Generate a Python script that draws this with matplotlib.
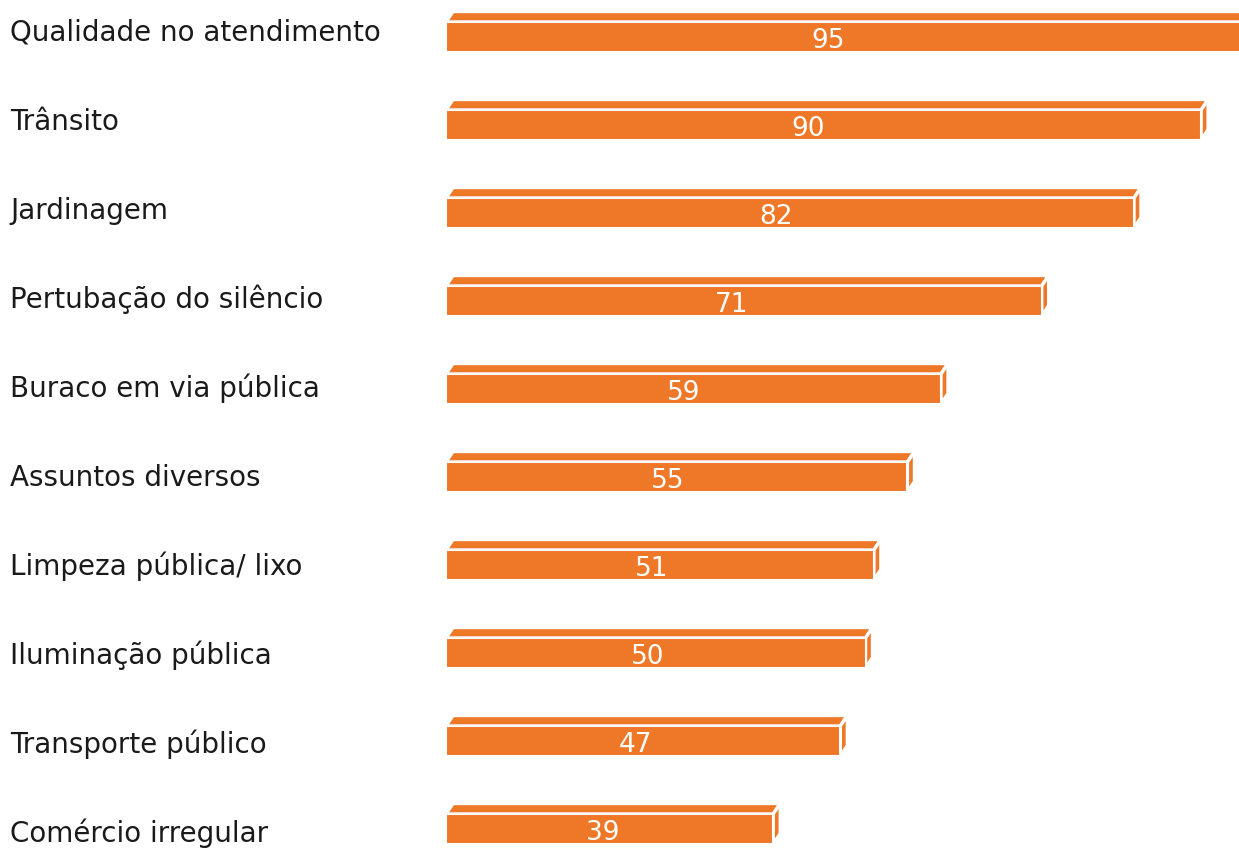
import matplotlib
matplotlib.use("Agg")
import matplotlib.pyplot as plt
from matplotlib.patches import Polygon

categories = ["Qualidade no atendimento", "Trânsito", "Jardinagem",
              "Pertubação do silêncio", "Buraco em via pública",
              "Assuntos diversos", "Limpeza pública/ lixo",
              "Iluminação pública", "Transporte público", "Comércio irregular"]
values = [95, 90, 82, 71, 59, 55, 51, 50, 47, 39]

W, H = 1239, 850
fig = plt.figure(figsize=(W / 100, H / 100), dpi=100)
x0_px = 446
px_per_unit = 8.39
ax = fig.add_axes([x0_px / W, 0, px_per_unit * 100 / W, 1])
ax.set_xlim(0, 100)
spacing = 88.0
c0 = 37
ax.set_ylim((H - c0) / spacing, -c0 / spacing)
ax.axis("off")

color = "#EE7828"
h = 30 / spacing
dx = 7 / px_per_unit
dy = 10.5 / spacing

for i, v in enumerate(values):
    top = i - h / 2
    bot = i + h / 2
    # top face
    ax.add_patch(Polygon([(0, top), (v, top), (v + dx, top - dy), (dx, top - dy)],
                         closed=True, facecolor=color, edgecolor="white", lw=2.4, zorder=2))
    # side face
    ax.add_patch(Polygon([(v, top), (v + dx, top - dy), (v + dx, bot - dy), (v, bot)],
                         closed=True, facecolor=color, edgecolor="white", lw=2.4, zorder=2))
    ax.barh(i, v, height=h, color=color, edgecolor="white", lw=1.5, zorder=3)
    ax.text(v * 0.48, i + 0.04, str(v), color="white", fontsize=19,
            ha="center", va="center", zorder=4)

label_c0 = 33
label_spacing = 88.9
for i, c in enumerate(categories):
    fig.text(10 / W, 1 - (label_c0 + i * label_spacing) / H, c, fontsize=20,
             ha="left", va="center", color="#1a1a1a")

fig.savefig("out.png", dpi=100)
